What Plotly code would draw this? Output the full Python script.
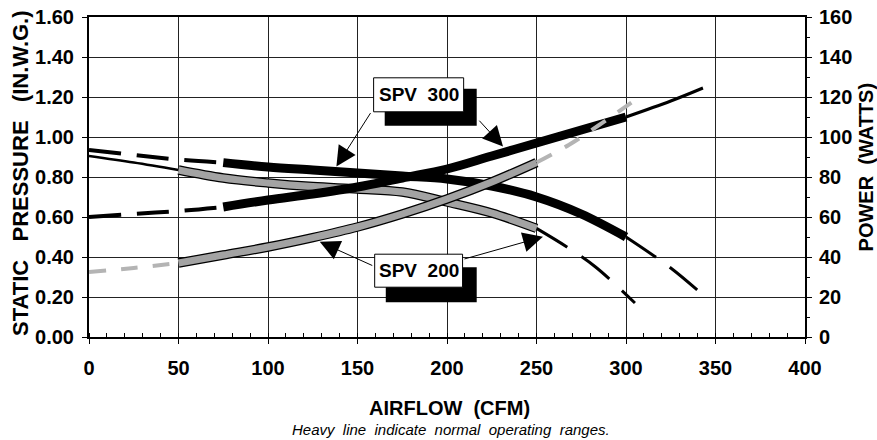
import plotly.graph_objects as go

# ---------------- data ----------------
cfm_spv300 = [0, 25, 50, 75, 100, 125, 150, 175, 200, 225, 250, 275, 300, 325, 343]
pressure_spv300 = [0.935, 0.91, 0.887, 0.872, 0.85, 0.835, 0.82, 0.805, 0.79, 0.755, 0.70, 0.615, 0.50, 0.345, 0.21]
power_spv300 = [60, 61.5, 63, 65, 68.5, 71.5, 75, 79.5, 84, 90.5, 97, 103.5, 110, 118, 124.5]

cfm_spv200_pressure = [0, 25, 50, 75, 100, 125, 150, 175, 200, 225, 250, 267, 283, 305]
pressure_spv200 = [0.905, 0.872, 0.835, 0.795, 0.77, 0.752, 0.74, 0.725, 0.675, 0.62, 0.543, 0.45, 0.35, 0.17]
cfm_spv200_power = [0, 25, 50, 75, 100, 125, 150, 175, 200, 225, 250, 268, 285, 303]
power_spv200 = [32.5, 34.5, 37, 41, 45, 49.7, 55, 61.5, 69, 77.5, 87.2, 96, 106, 117.2]

range_spv300 = (75, 300)   # normal operating range (heavy line), CFM
range_spv200 = (50, 250)

x_ticks = [0, 50, 100, 150, 200, 250, 300, 350, 400]
sp_ticks = [0.0, 0.2, 0.4, 0.6, 0.8, 1.0, 1.2, 1.4, 1.6]
sp_labels = ["0.00", "0.20", "0.40", "0.60", "0.80", "1.00", "1.20", "1.40", "1.60"]
power_ticks = [0, 20, 40, 60, 80, 100, 120, 140, 160]
model_labels = ["SPV  300", "SPV  200"]

# ---------------- helpers ----------------
def split(xs, ys, rng):
    lo, hi = rng
    pre = [(x, y) for x, y in zip(xs, ys) if x <= lo]
    mid = [(x, y) for x, y in zip(xs, ys) if lo <= x <= hi]
    post = [(x, y) for x, y in zip(xs, ys) if x >= hi]
    unz = lambda p: ([a for a, _ in p], [b for _, b in p])
    return unz(pre), unz(mid), unz(post)

fig = go.Figure()

def add(seg, color, width, dash="solid", axis="y"):
    xs, ys = seg
    if len(xs) < 2:
        return
    fig.add_trace(go.Scatter(x=xs, y=ys, mode="lines", yaxis=axis,
                             line=dict(color=color, width=width, dash=dash, shape="spline", smoothing=1.0),
                             hoverinfo="skip", showlegend=False))

BLACK = "#000000"
GRAY = "#a3a3a3"
LGRAY = "#b4b4b4"
DASH_BLK = "32px,16px"
DASH_GRY = "17px,15px"

# SPV 300 pressure
pre, mid, post = split(cfm_spv300, pressure_spv300, range_spv300)
add(pre, BLACK, 4, DASH_BLK)
add(mid, BLACK, 9)
add(post, BLACK, 3, "36px,17px")
# SPV 300 power
pre, mid, post = split(cfm_spv300, power_spv300, range_spv300)
add(pre, BLACK, 4, DASH_BLK, "y2")
add(mid, BLACK, 9, axis="y2")
add(post, BLACK, 3, axis="y2")
# SPV 200 pressure
pre, mid, post = split(cfm_spv200_pressure, pressure_spv200, range_spv200)
add(pre, BLACK, 2.5)
add(post, BLACK, 3, "36px,17px")
add(mid, BLACK, 9.5)
add(mid, GRAY, 7)
# SPV 200 power
pre, mid, post = split(cfm_spv200_power, power_spv200, range_spv200)
add(pre, LGRAY, 4, DASH_GRY, "y2")
add(post, LGRAY, 4, DASH_GRY, "y2")
add(mid, BLACK, 9.5, axis="y2")
add(mid, GRAY, 7, axis="y2")

# ---------------- callout boxes & arrows ----------------
shapes = []
annotations = []
boxes = [
    # (shadow x0,x1,y0,y1), (box x0,x1,y0,y1), label
    ((165.2, 216.6, 1.056, 1.241), (159.0, 209.3, 1.126, 1.296), model_labels[0]),
    ((165.8, 216.6, 0.174, 0.349), (159.6, 208.7, 0.249, 0.414), model_labels[1]),
]
for sh, bx, lab in boxes:
    shapes.append(dict(type="rect", xref="x", yref="y", x0=sh[0], x1=sh[1], y0=sh[2], y1=sh[3],
                       fillcolor="black", line=dict(width=0), layer="above"))
    shapes.append(dict(type="rect", xref="x", yref="y", x0=bx[0], x1=bx[1], y0=bx[2], y1=bx[3],
                       fillcolor="white", line=dict(color="black", width=1), layer="above"))
    annotations.append(dict(x=(bx[0] + bx[1]) / 2, y=(bx[2] + bx[3]) / 2, xref="x", yref="y",
                            text="<b>" + lab.replace(" ", "\u00a0") + "</b>", showarrow=False,
                            font=dict(size=19, color="black"), xanchor="center", yanchor="middle"))

arrows = [
    (138.2, 0.852, 157.8, 1.127),
    (231.3, 0.952, 217.3, 1.089),
    (128.9, 0.476, 159.1, 0.354),
    (253.6, 0.501, 208.9, 0.388),
]
for hx, hy, tx, ty in arrows:
    annotations.append(dict(x=hx, y=hy, ax=tx, ay=ty, xref="x", yref="y", axref="x", ayref="y",
                            text="", showarrow=True, arrowhead=2, arrowsize=4, arrowwidth=1,
                            arrowcolor="black"))

# axis titles
annotations += [
    dict(x=-0.0964, y=0.5125, xref="paper", yref="paper", textangle=-90, showarrow=False,
         text="<b>STATIC\u00a0\u00a0\u00a0PRESSURE\u00a0\u00a0\u00a0(IN.W.G.)</b>", font=dict(size=22),
         xanchor="center", yanchor="middle"),
    dict(x=1.0852, y=0.53, xref="paper", yref="paper", textangle=-90, showarrow=False,
         text="<b>POWER\u00a0\u00a0(WATTS)</b>", font=dict(size=20), xanchor="center", yanchor="middle"),
    dict(x=0.5028, y=-0.222, xref="paper", yref="paper", showarrow=False,
         text="<b>AIRFLOW\u00a0\u00a0(CFM)</b>", font=dict(size=20), xanchor="center", yanchor="middle"),
    dict(x=0.506, y=-0.29, xref="paper", yref="paper", showarrow=False,
         text="<i>Heavy\u00a0\u00a0line\u00a0\u00a0indicate\u00a0\u00a0normal\u00a0\u00a0operating\u00a0\u00a0ranges.</i>",
         font=dict(size=15), xanchor="center", yanchor="middle"),
]

tickfont = dict(size=20, color="black", weight="bold")
fig.update_layout(
    width=877, height=440,
    margin=dict(l=89, r=72, t=17, b=103, autoexpand=False),
    paper_bgcolor="white", plot_bgcolor="white",
    font=dict(family="Liberation Sans, Arial, sans-serif", color="black"),
    showlegend=False,
    hovermode=False,
    shapes=shapes,
    annotations=annotations,
    xaxis=dict(range=[0, 400], tickvals=x_ticks, ticktext=[str(v) for v in x_ticks],
               showgrid=True, gridcolor="#222", gridwidth=1, zeroline=False,
               showline=True, linecolor="black", linewidth=2, mirror=True,
               ticks="outside", ticklen=5, tickcolor="black", tickfont=tickfont,
               ticklabelstandoff=7, ticklabeloverflow="allow",
               minor=dict(dtick=10, ticks="inside", ticklen=4, tickcolor="black", showgrid=False)),
    yaxis=dict(range=[0, 1.6], tickvals=sp_ticks, ticktext=sp_labels,
               showgrid=True, gridcolor="#222", gridwidth=1, zeroline=False,
               showline=True, linecolor="black", linewidth=2,
               ticks="outside", ticklen=5, tickcolor="black", tickfont=tickfont,
               ticklabelstandoff=4, ticklabeloverflow="allow"),
    yaxis2=dict(range=[0, 160], tickvals=power_ticks, ticktext=[str(v) for v in power_ticks],
                overlaying="y", side="right", showgrid=False, zeroline=False,
                showline=True, linecolor="black", linewidth=2,
                ticks="outside", ticklen=5, tickcolor="black", tickfont=tickfont,
                ticklabelstandoff=3, ticklabeloverflow="allow",
                minor=dict(dtick=10, ticks="outside", ticklen=3, tickcolor="black")),
)

# remove the page's default 8px body margin so the figure fills the window
fig.write_html("out.html",
               config={"displayModeBar": False, "staticPlot": True},
               post_script="document.body.style.margin='0';document.body.style.overflow='hidden';")
